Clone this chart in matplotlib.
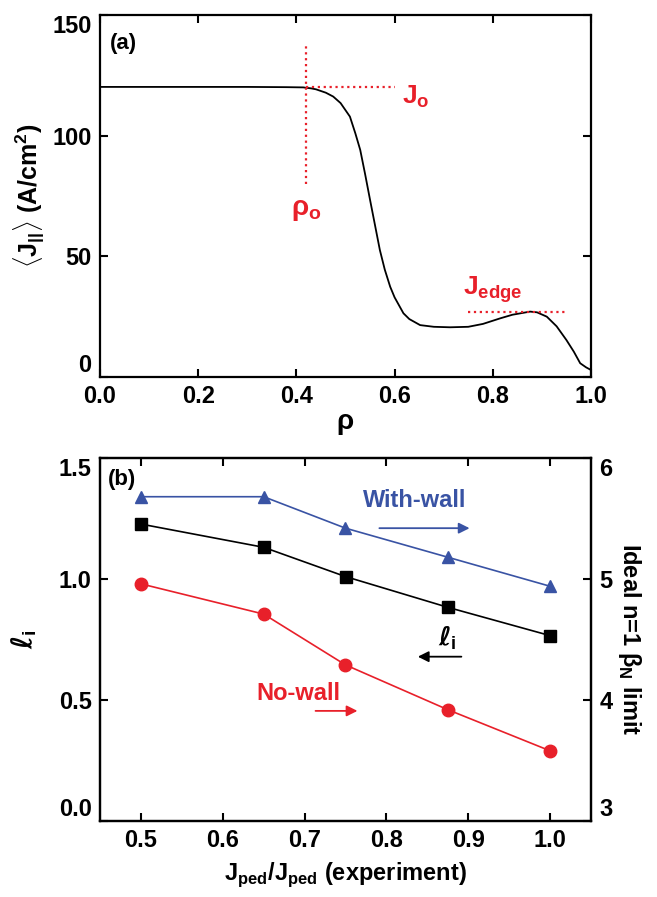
import matplotlib
matplotlib.use("Agg")
import matplotlib.pyplot as plt

plt.rcParams['font.family'] = ['Liberation Sans', 'DejaVu Sans']
plt.rcParams['font.weight'] = 'bold'
plt.rcParams['axes.labelweight'] = 'bold'
plt.rcParams['mathtext.fontset'] = 'custom'
plt.rcParams['mathtext.rm'] = 'Liberation Sans:bold'
plt.rcParams['mathtext.bf'] = 'Liberation Sans:bold'
plt.rcParams['mathtext.it'] = 'DejaVu Sans:italic'

RED = '#e8202a'
BLUE = '#3953a4'

# panel (a): current profile
rho = [0.00, 0.10, 0.20, 0.30, 0.38, 0.414, 0.43, 0.44, 0.46, 0.475, 0.49, 0.509,
       0.52, 0.53, 0.54, 0.55, 0.56, 0.57, 0.58, 0.591, 0.60, 0.618, 0.63, 0.652,
       0.68, 0.713, 0.75, 0.78, 0.815, 0.84, 0.876, 0.89, 0.91, 0.93, 0.95, 0.965,
       0.978, 0.99, 1.00]
jpar = [120.2, 120.2, 120.2, 120.2, 120.1, 120.0, 119.6, 119.2, 117.8, 116.2, 113.5, 107.9,
        101.0, 94.1, 84.0, 73.4, 63.0, 52.6, 44.5, 37.4, 33.0, 26.4, 24.0, 21.5,
        20.8, 20.6, 20.8, 22.0, 24.3, 25.8, 27.1, 26.8, 25.0, 21.0, 15.3, 10.5,
        5.7, 4.0, 2.9]

# panel (b)
jratio = [0.5, 0.65, 0.75, 0.875, 1.0]
li = [1.227, 1.131, 1.010, 0.883, 0.766]
beta_wall = [5.68, 5.68, 5.42, 5.18, 4.94]
beta_nowall = [4.96, 4.71, 4.29, 3.92, 3.58]

fig = plt.figure(figsize=(6.57, 8.97), dpi=100)

def style(ax):
    ax.tick_params(direction='in', length=6, width=1.5, labelsize=17, pad=6)
    for s in ax.spines.values():
        s.set_linewidth(1.6)

def pin_ends(ax, labels):
    # first label sits above its tick, last one below, like the original
    labels[0].set_va('bottom')
    labels[-1].set_va('top')

# ---- (a)
ax1 = fig.add_axes([100/657, 1 - 377/897, 491/657, 362/897])
ax1.plot(rho, jpar, color='black', lw=1.3)
ax1.set_xlim(0, 1.0)
ax1.set_ylim(0, 150)
ax1.set_xticks([0.0, 0.2, 0.4, 0.6, 0.8, 1.0])
ax1.set_xticklabels(['0.0', '0.2', '0.4', '0.6', '0.8', '1.0'])
ax1.set_yticks([0, 50, 100, 150])
ax1.tick_params(top=True, right=True)
style(ax1)
pin_ends(ax1, ax1.get_yticklabels())
ax1.set_xlabel(r'$\mathrm{\rho}$', fontsize=20, labelpad=2)
ax1.set_ylabel(r'$\langle\mathbf{J_{||}}\rangle$ (A/cm$^\mathbf{2}$)', fontsize=18, labelpad=4)

ax1.plot([0.42, 0.42], [80, 138], color=RED, ls=':', lw=1.6)
ax1.plot([0.42, 0.60], [120, 120], color=RED, ls=':', lw=1.6)
ax1.plot([0.75, 0.95], [27, 27], color=RED, ls=':', lw=1.6)
ax1.text(0.615, 116, r'$\mathbf{J_o}$', color=RED, fontsize=19, va='center')
ax1.text(0.42, 69, r'$\mathrm{\rho}_{\mathbf{o}}$', color=RED, fontsize=20, ha='center', va='center')
ax1.text(0.74, 36, r'$\mathbf{J_{edge}}$', color=RED, fontsize=19, va='center')
ax1.text(0.02, 138, '(a)', fontsize=16, va='center')

# ---- (b)
ax2 = fig.add_axes([100/657, 76/897, 491/657, 363/897])
ax3 = ax2.twinx()
ax2.plot(jratio, li, color='black', lw=1.2, marker='s', ms=9)
ax3.plot(jratio, beta_wall, color=BLUE, lw=1.2, marker='^', ms=9)
ax3.plot(jratio, beta_nowall, color=RED, lw=1.2, marker='o', ms=9)
ax2.set_xlim(0.45, 1.05)
ax2.set_ylim(0, 1.5)
ax3.set_ylim(3, 6)
ax2.set_xticks([0.5, 0.6, 0.7, 0.8, 0.9, 1.0])
ax2.set_xticklabels(['0.5', '0.6', '0.7', '0.8', '0.9', '1.0'])
ax2.set_yticks([0.0, 0.5, 1.0, 1.5])
ax2.set_yticklabels(['0.0', '0.5', '1.0', '1.5'])
ax3.set_yticks([3, 4, 5, 6])
ax3.set_yticklabels(['3', '4', '5', '6'])
ax2.tick_params(top=True)
style(ax2)
style(ax3)
pin_ends(ax2, ax2.get_yticklabels())
pin_ends(ax3, ax3.get_yticklabels())
ax2.set_xlabel(r'J$_{\mathbf{ped}}$/J$_{\mathbf{ped}}$ (experiment)', fontsize=17, labelpad=6)
ax2.set_ylabel(r'$\ell_{\mathbf{i}}$', fontsize=20, labelpad=14)
ax3.set_ylabel(r'Ideal n=1 $\mathrm{\beta}_{\mathbf{N}}$ limit', fontsize=17, rotation=270, labelpad=22)

ax3.text(0.835, 5.65, 'With-wall', color=BLUE, fontsize=17, ha='center', va='center')
ax3.annotate('', xy=(0.905, 5.42), xytext=(0.788, 5.42),
             arrowprops=dict(arrowstyle='-|>', color=BLUE, lw=1.3, mutation_scale=16))
ax2.text(0.874, 0.756, r'$\ell_{\mathbf{i}}$', fontsize=19, ha='center', va='center')
ax2.annotate('', xy=(0.835, 0.679), xytext=(0.895, 0.679),
             arrowprops=dict(arrowstyle='-|>', color='black', lw=1.3, mutation_scale=16))
ax2.text(0.692, 0.528, 'No-wall', color=RED, fontsize=17, ha='center', va='center')
ax2.annotate('', xy=(0.768, 0.455), xytext=(0.71, 0.455),
             arrowprops=dict(arrowstyle='-|>', color=RED, lw=1.3, mutation_scale=16))
ax2.text(0.46, 1.41, '(b)', fontsize=16, va='center')

fig.savefig('out.png', dpi=100)
